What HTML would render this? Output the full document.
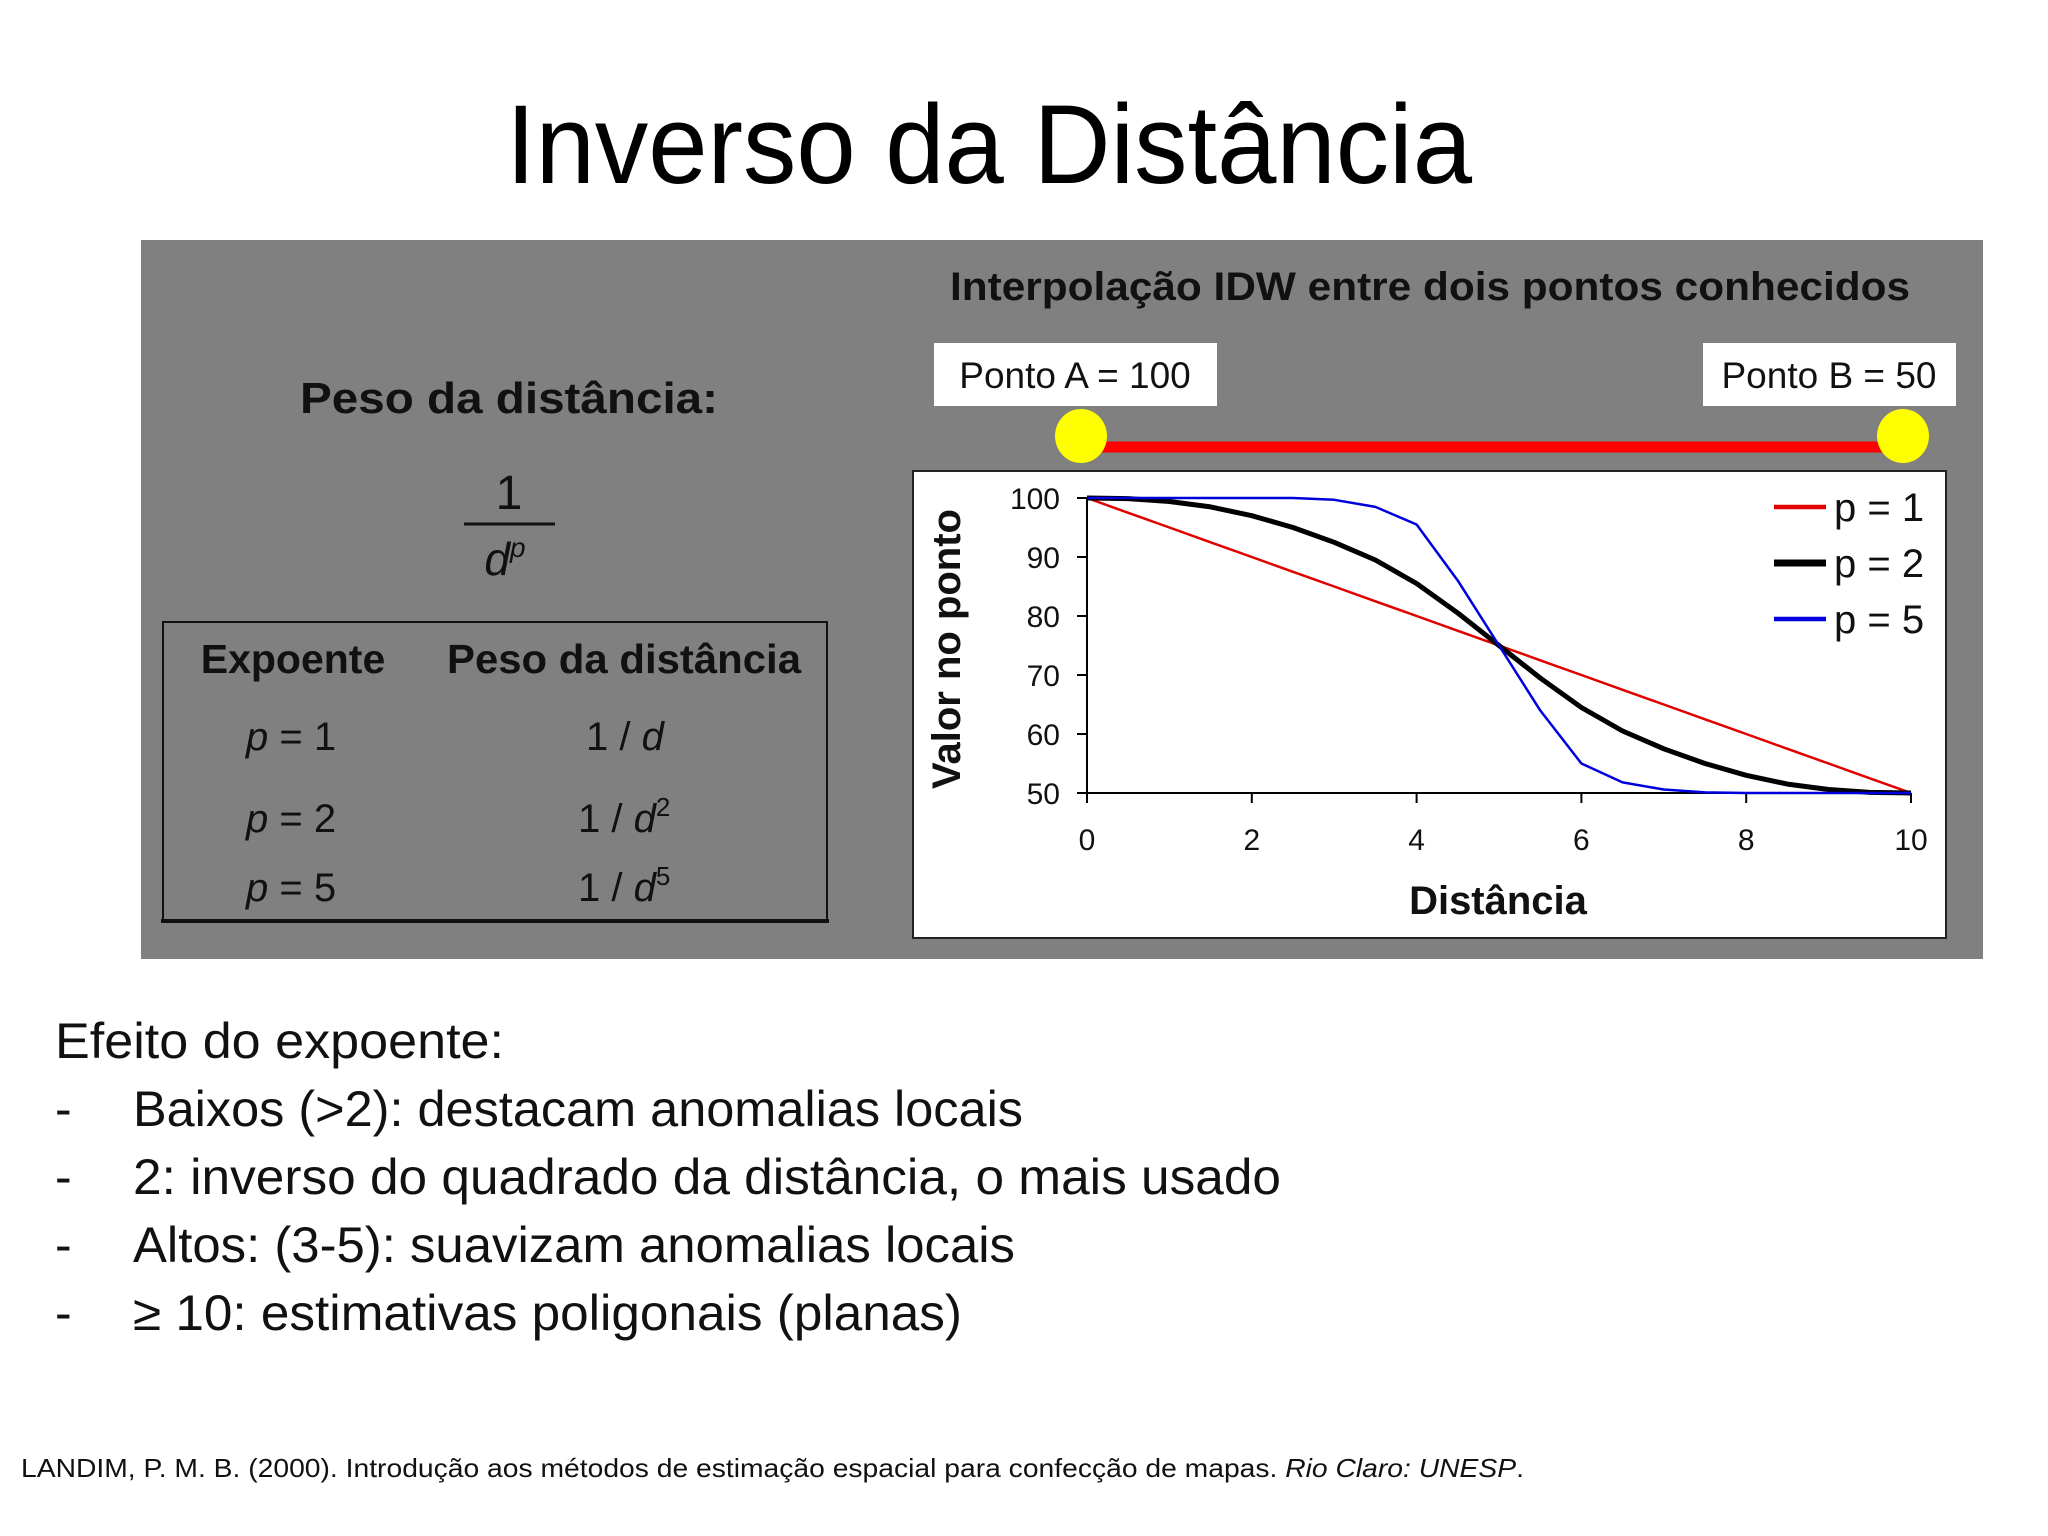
<!DOCTYPE html>
<html><head><meta charset="utf-8"><style>
html,body{margin:0;padding:0;background:#fff}
svg{display:block}
text{font-family:"Liberation Sans",sans-serif}
</style></head><body>
<svg id="s" width="2048" height="1536" viewBox="0 0 2048 1536">
<text x="989" y="183" font-size="112" text-anchor="middle" textLength="966" lengthAdjust="spacingAndGlyphs" fill="#000">Inverso da Distância</text>
<rect x="141" y="240" width="1842" height="719" fill="#808080"/>
<text x="509" y="413" font-size="44" font-weight="bold" text-anchor="middle" textLength="418" lengthAdjust="spacingAndGlyphs" fill="#111">Peso da distância:</text>
<text x="509" y="509" font-size="48" text-anchor="middle" fill="#111">1</text>
<line x1="464" y1="524" x2="555" y2="524" stroke="#111" stroke-width="3"/>
<text x="505" y="575" font-size="46" font-style="italic" text-anchor="middle" fill="#111">d<tspan font-size="28" dy="-18">p</tspan></text>
<rect x="163" y="622" width="664" height="299" fill="none" stroke="#111" stroke-width="2"/>
<line x1="161" y1="921" x2="829" y2="921" stroke="#111" stroke-width="4"/>
<text x="293" y="673" font-size="41" font-weight="bold" text-anchor="middle" fill="#111">Expoente</text>
<text x="624" y="673" font-size="41" font-weight="bold" text-anchor="middle" textLength="354" lengthAdjust="spacingAndGlyphs" fill="#111">Peso da distância</text>
<g font-size="40" fill="#111">
<text x="246" y="750"><tspan font-style="italic">p</tspan> = 1</text>
<text x="586" y="750">1 / <tspan font-style="italic">d</tspan></text>
<text x="246" y="832"><tspan font-style="italic">p</tspan> = 2</text>
<text x="578" y="832">1 / <tspan font-style="italic">d</tspan><tspan font-size="26" dy="-16">2</tspan></text>
<text x="246" y="901"><tspan font-style="italic">p</tspan> = 5</text>
<text x="578" y="901">1 / <tspan font-style="italic">d</tspan><tspan font-size="26" dy="-16">5</tspan></text>
</g>
<text x="1430" y="300" font-size="40" font-weight="bold" text-anchor="middle" textLength="960" lengthAdjust="spacingAndGlyphs" fill="#111">Interpolação IDW entre dois pontos conhecidos</text>
<rect x="934" y="343" width="283" height="63" fill="#fff"/>
<text x="1075" y="388" font-size="37" text-anchor="middle" fill="#111">Ponto A = 100</text>
<rect x="1703" y="343" width="253" height="63" fill="#fff"/>
<text x="1829" y="388" font-size="37" text-anchor="middle" fill="#111">Ponto B = 50</text>
<line x1="1081" y1="447" x2="1903" y2="447" stroke="#f00" stroke-width="11"/>
<ellipse cx="1081" cy="436" rx="26" ry="27" fill="#ff0"/>
<ellipse cx="1903" cy="436" rx="26" ry="27" fill="#ff0"/>
<rect x="913" y="471" width="1033" height="467" fill="#fff" stroke="#222" stroke-width="2"/>
<g id="plot"></g>
<text x="55" y="1058" font-size="50" fill="#111" textLength="449" lengthAdjust="spacingAndGlyphs">Efeito do expoente:</text>
<g font-size="50" fill="#111">
<text x="55" y="1126">-</text><text x="133" y="1126" textLength="890" lengthAdjust="spacingAndGlyphs">Baixos (&gt;2): destacam anomalias locais</text>
<text x="55" y="1194">-</text><text x="133" y="1194" textLength="1148" lengthAdjust="spacingAndGlyphs">2: inverso do quadrado da distância, o mais usado</text>
<text x="55" y="1262">-</text><text x="133" y="1262" textLength="882" lengthAdjust="spacingAndGlyphs">Altos: (3-5): suavizam anomalias locais</text>
<text x="55" y="1330">-</text><text x="133" y="1330" textLength="829" lengthAdjust="spacingAndGlyphs">≥ 10: estimativas poligonais (planas)</text>
</g>
<text x="21" y="1477" font-size="26" fill="#111" textLength="1503" lengthAdjust="spacingAndGlyphs">LANDIM, P. M. B. (2000). Introdução aos métodos de estimação espacial para confecção de mapas. <tspan font-style="italic">Rio Claro: UNESP</tspan>.</text>
</svg>
<script>
const xs = [0,0.5,1,1.5,2,2.5,3,3.5,4,4.5,5,5.5,6,6.5,7,7.5,8,8.5,9,9.5,10];
const p1 = [100,97.5,95,92.5,90,87.5,85,82.5,80,77.5,75,72.5,70,67.5,65,62.5,60,57.5,55,52.5,50];
const p2 = [100,99.9,99.4,98.5,97,95,92.5,89.5,85.5,80.5,75,69.5,64.5,60.5,57.5,55,53,51.5,50.6,50.1,50];
const p5 = [100,100,100,100,100,100,99.7,98.5,95.5,86,75,64,55,51.8,50.6,50.1,50,50,50,50,50];
const xTicks = [0,2,4,6,8,10];
const yTicks = [50,60,70,80,90,100];
const legendLabels = ['p = 1','p = 2','p = 5'];
const NS='http://www.w3.org/2000/svg';
const g=document.getElementById('plot');
const X=v=>1087+(v-0)/10*(1911-1087);
const Y=v=>793-(v-50)/50*(793-498);
function mk(t,a){const e=document.createElementNS(NS,t);for(const k in a)e.setAttribute(k,a[k]);g.appendChild(e);return e;}
let e=mk('line',{x1:X(0),y1:Y(50),x2:X(10),y2:Y(50),stroke:'#000','stroke-width':2});


e=mk('line',{x1:X(0),y1:Y(50),x2:X(0),y2:Y(100),stroke:'#000','stroke-width':2});


xTicks.forEach(t=>{
  let l=mk('line',{x1:X(t),y1:Y(50),x2:X(t),y2:Y(50)+10,stroke:'#000','stroke-width':2});
  
  
  let tx=mk('text',{x:X(t),y:850,'font-size':30,'text-anchor':'middle',fill:'#111'});tx.textContent=t;
  
  
});
yTicks.forEach(t=>{
  let l=mk('line',{x1:X(0)-10,y1:Y(t),x2:X(0),y2:Y(t),stroke:'#000','stroke-width':2});
  
  
  let tx=mk('text',{x:1060,y:Y(t)+11,'font-size':30,'text-anchor':'end',fill:'#111'});tx.textContent=t;
  
  
});
const series=[[p1,'#e00000',2.5],[p2,'#000',5],[p5,'#0000dd',2.5]];
series.forEach((s,i)=>{
  const d=xs.map((x,j)=>(j?'L':'M')+X(x).toFixed(1)+','+Y(s[0][j]).toFixed(1)).join('');
  let p=mk('path',{d:d,fill:'none',stroke:s[1],'stroke-width':s[2],'stroke-linejoin':'round'});
  
  
  const ly=507+i*56;
  let l=mk('line',{x1:1774,y1:ly,x2:1826,y2:ly,stroke:s[1],'stroke-width':s[2]+2});
  
  
  let tx=mk('text',{x:1834,y:ly+14,'font-size':40,fill:'#111'});tx.textContent=legendLabels[i];
  
  
});
let xt=mk('text',{x:1498,y:914,'font-size':40,'font-weight':'bold','text-anchor':'middle',fill:'#111'});xt.textContent='Distância';


let yt=mk('text',{x:0,y:0,'font-size':40,'font-weight':'bold','text-anchor':'middle',fill:'#111',transform:'translate(960,649) rotate(-90)'});yt.textContent='Valor no ponto';


</script>
</body></html>
